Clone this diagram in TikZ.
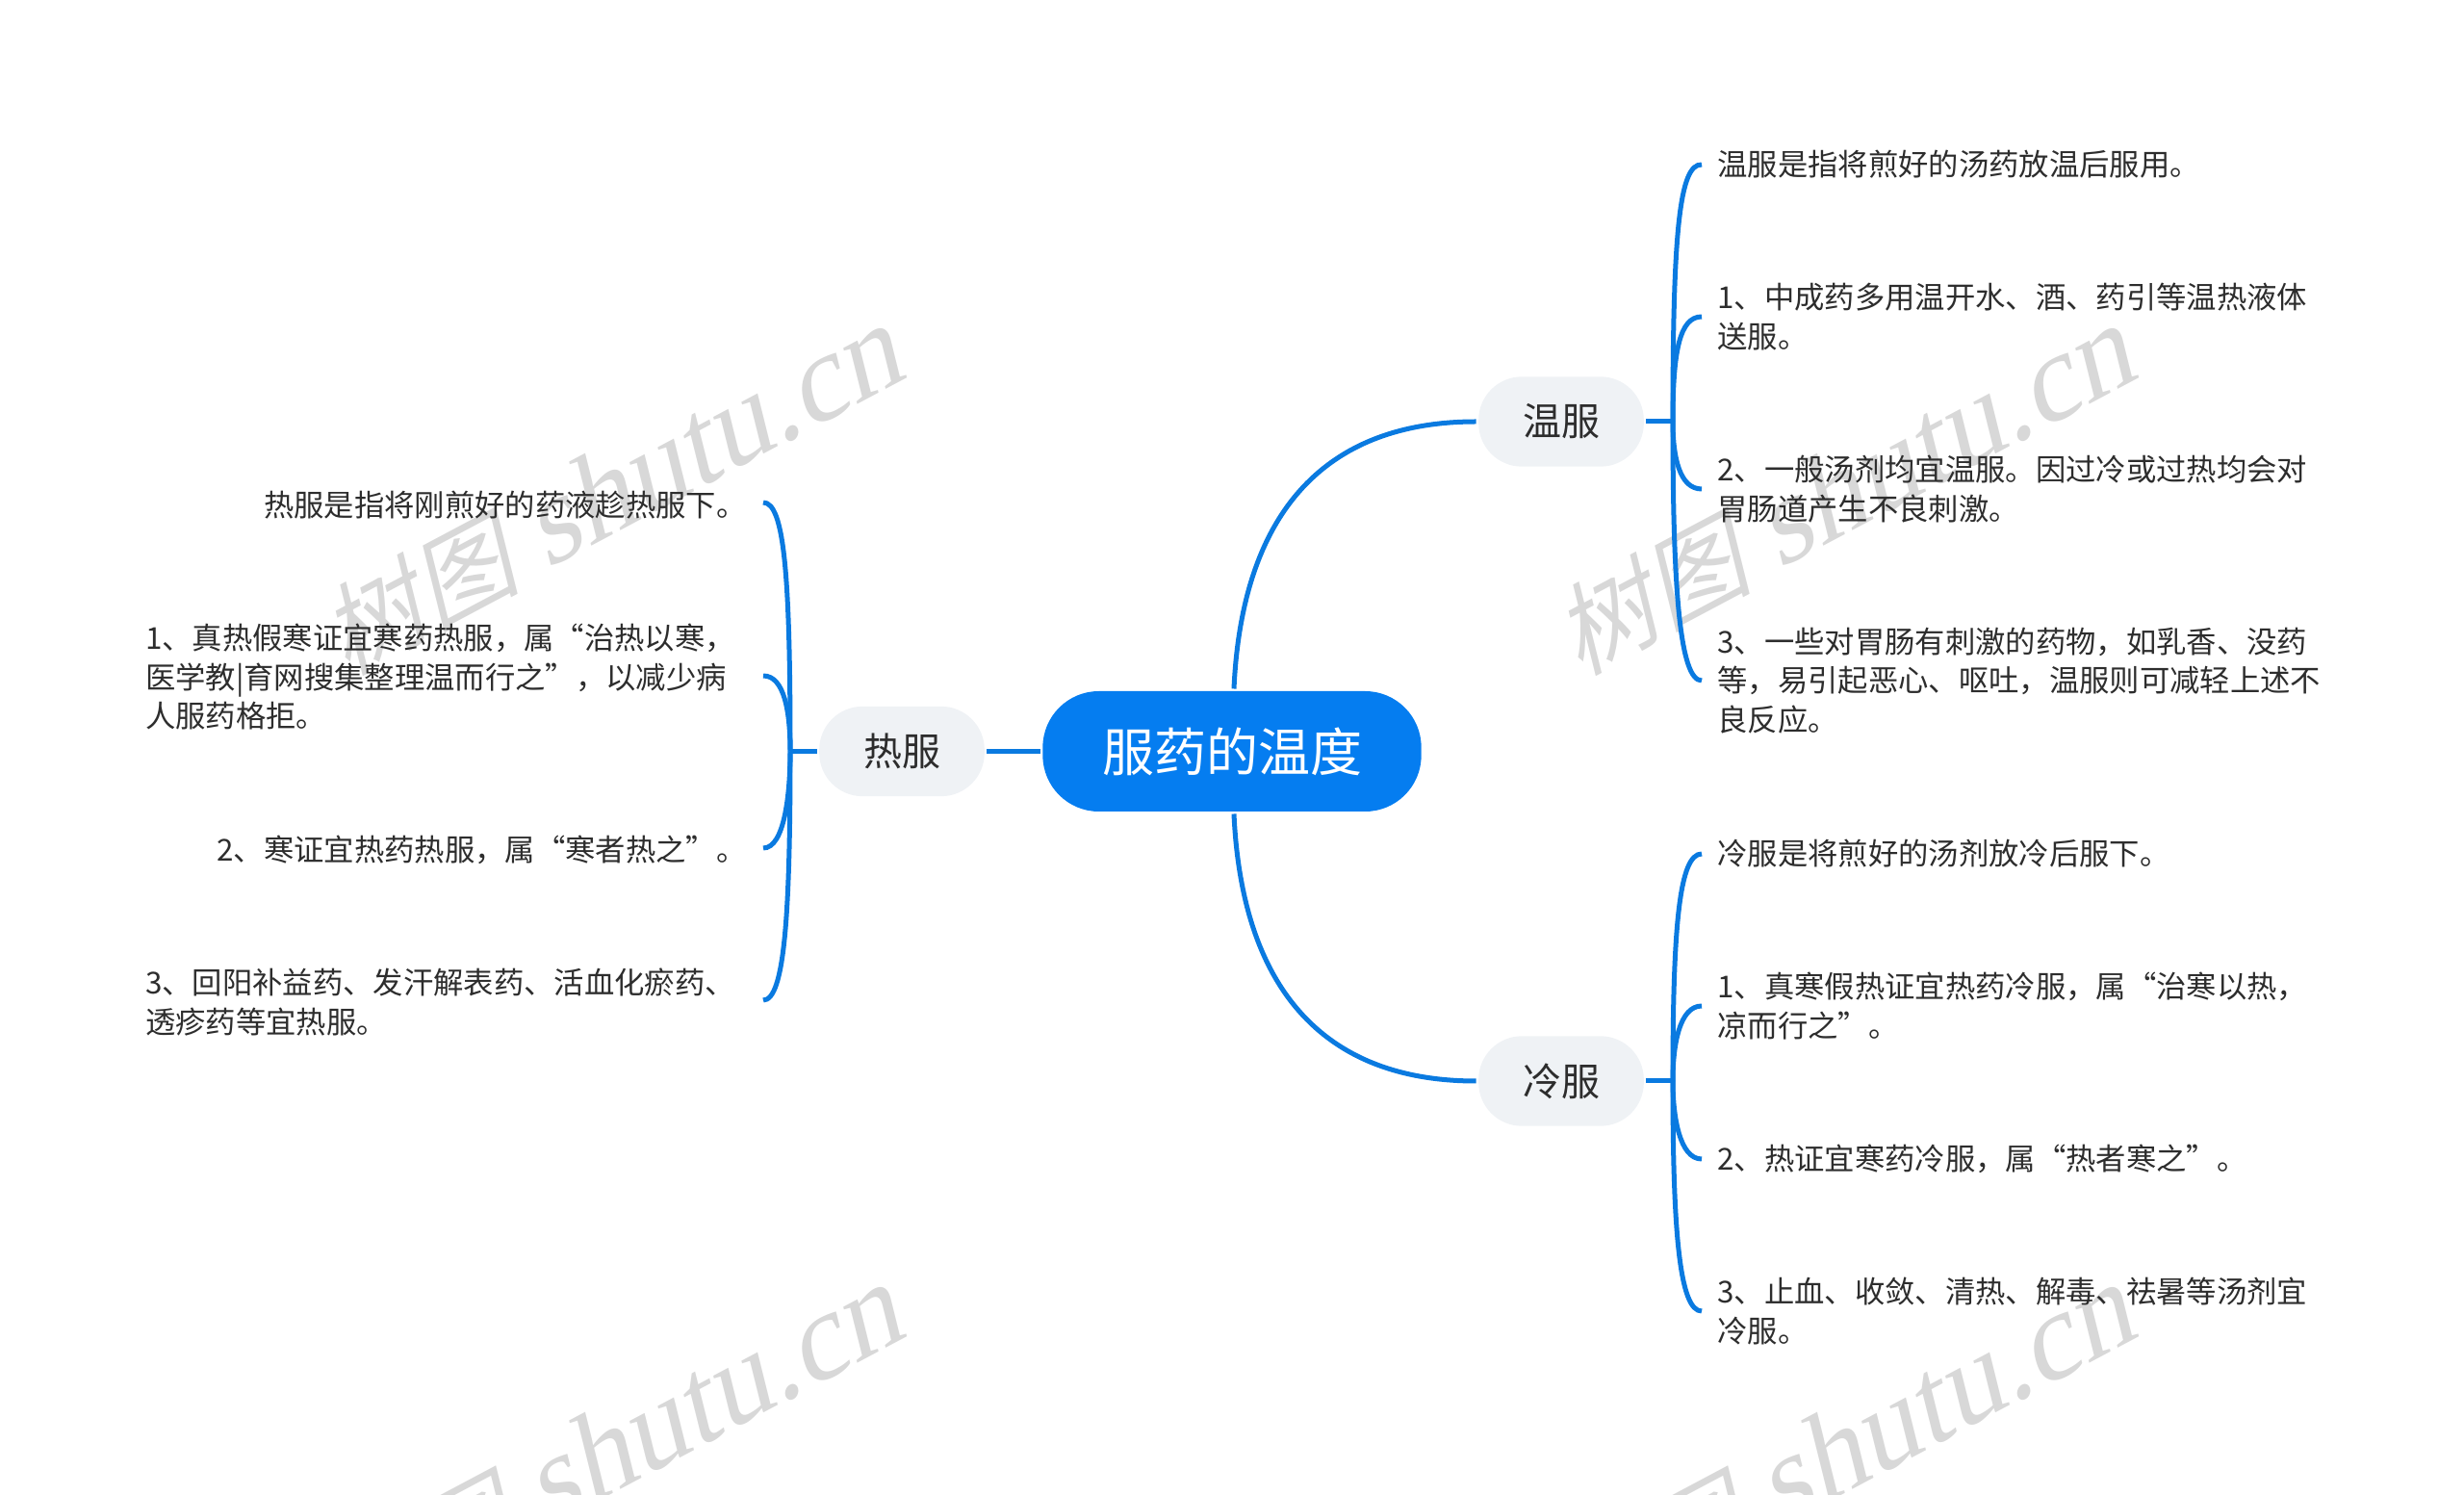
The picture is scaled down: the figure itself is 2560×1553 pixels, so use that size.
\documentclass[tikz,border=0pt]{standalone}
\usepackage{fontspec}
\setmainfont{Noto Sans CJK SC}
\newfontfamily\markfont[FakeSlant=0.25]{Liberation Serif}
\newfontfamily\markcjk[FakeSlant=0.25]{Noto Sans CJK SC}
\definecolor{linkblue}{RGB}{10,122,224}
\definecolor{rootblue}{RGB}{5,125,240}
\definecolor{pillgray}{RGB}{239,242,245}
\definecolor{markgray}{RGB}{216,216,216}
\definecolor{textgray}{RGB}{45,45,45}
\tikzset{every picture/.style={line width=1.5pt}}
\tikzset{
  rootnode/.style={rectangle,rounded corners=17.5pt,fill=rootblue,text=white,minimum width=118pt,minimum height=37.5pt,font=\fontsize{16.2}{20}\selectfont},
  pillnode/.style={rectangle,rounded corners=13.5pt,fill=pillgray,text=textgray,minimum width=51.5pt,minimum height=28pt,font=\fontsize{12}{15}\selectfont},
  leafright/.style={anchor=west,align=left,inner sep=4.2pt,text=textgray,font=\fontsize{9.4}{12.25}\selectfont},
  leafleft/.style={anchor=east,align=left,inner sep=4.5pt,text=textgray,font=\fontsize{9.4}{12.25}\selectfont},
  link/.style={draw=linkblue},
  markspec/.style={rotate=28,text=markgray,font=\fontsize{38}{40}\selectfont}
}
\newcommand{\marktext}{{\markcjk\fontsize{31}{40}\selectfont 树图} {\markfont shutu.cn}}

\begin{document}
\begin{tikzpicture}[x=0.3pt,y=0.3pt,yscale=-1,xscale=1]
\useasboundingbox (0,0) rectangle (2560,1553);

% Watermark
\begin{scope}
\clip (0,0) rectangle (2560,1553);
\node [markspec] (markA) at (634,512) {\marktext};
\node [markspec] (markB) at (1914,512) {\marktext};
\node [markspec] (markC) at (634,1508) {\marktext};
\node [markspec] (markD) at (1914,1508) {\marktext};
\end{scope}

% Text Node
\node [rootnode] (root) at (1280,780.5) {服药的温度};
% Text Node
\node [pillnode] (warm) at (1622,438) {温服};
\node [pillnode] (cold) at (1622,1123) {冷服};
\node [pillnode] (hot) at (937,780.5) {热服};

% Text Node
\node [leafright] (warmA) at (1768,171) {温服是指将煎好的汤药放温后服用。};
\node [leafright] (warmB) at (1768,329) {1、中成药多用温开水、酒、药引等温热液体\\送服。};
\node [leafright] (warmC) at (1768,508) {2、一般汤剂均宜温服。因过冷或过热均会对\\胃肠道产生不良刺激。};
\node [leafright] (warmD) at (1768,707) {3、一些对胃肠有刺激的药物，如乳香、没药\\等，易引起恶心、呕吐，温服则可减轻上述不\\良反应。};
% Text Node
\node [leafright] (coldA) at (1768,887) {冷服是将煎好的汤剂放冷后服下。};
\node [leafright] (coldB) at (1768,1045) {1、真寒假热证宜热药冷服，属“治寒以热，\\凉而行之”。};
\node [leafright] (coldC) at (1768,1204) {2、热证宜寒药冷服，属“热者寒之”。};
\node [leafright] (coldD) at (1768,1362) {3、止血、收敛、清热、解毒、祛暑等汤剂宜\\冷服。};
% Text Node
\node [leafleft] (hotA) at (793,525) {热服是指将刚煎好的药液趁热服下。};
\node [leafleft,text width=187.3pt] (hotB) at (793,703) {1、真热假寒证宜寒药热服，属“治热以寒，\\医学教|育网搜集整理温而行之”，以减少病\\人服药格拒。};
\node [leafleft] (hotC) at (793,883) {2、寒证宜热药热服，属“寒者热之”。};
\node [leafleft,text width=187.3pt] (hotD) at (793,1041) {3、回阳补益药、发汗解表药、活血化瘀药、\\透疹药等宜热服。};

%Forks
\coordinate (warmfork) at (1738,438);
\coordinate (coldfork) at (1738,1123);
\coordinate (hotfork) at (821,780.5);

%Curves from the root
\draw [link] ([xshift=0.6pt]root.north) .. controls (1290,540) and (1370,438) .. (warm.west);
\draw [link] ([xshift=0.6pt]root.south) .. controls (1290,1021) and (1370,1123) .. (cold.west);
\draw [link] (root.west) -- (hot.east);

%Warm fork
\draw [link] (warm.east) -- (warmfork);
\draw [link] (warmfork) .. controls (1738,240) and (1745,170) .. (warmA.west);
\draw [link] (warmfork) .. controls (1738,365) and (1745,329) .. (warmB.west);
\draw [link] (warmfork) .. controls (1738,475) and (1745,508) .. (warmC.west);
\draw [link] (warmfork) .. controls (1738,610) and (1745,707) .. (warmD.west);
%Cold fork
\draw [link] (cold.east) -- (coldfork);
\draw [link] (coldfork) .. controls (1738,960) and (1745,887) .. (coldA.west);
\draw [link] (coldfork) .. controls (1738,1085) and (1745,1045) .. (coldB.west);
\draw [link] (coldfork) .. controls (1738,1160) and (1745,1204) .. (coldC.west);
\draw [link] (coldfork) .. controls (1738,1280) and (1745,1362) .. (coldD.west);
%Hot fork
\draw [link] (hot.west) -- (hotfork);
\draw [link] (hotfork) .. controls (821,600) and (815,522) .. ([yshift=-0.9pt]hotA.east);
\draw [link] (hotfork) .. controls (821,740) and (815,702) .. ([yshift=-0.3pt]hotB.east);
\draw [link] (hotfork) .. controls (821,825) and (815,881) .. ([yshift=-0.6pt]hotC.east);
\draw [link] (hotfork) .. controls (821,950) and (815,1039) .. ([yshift=-0.6pt]hotD.east);

\end{tikzpicture}
\end{document}
